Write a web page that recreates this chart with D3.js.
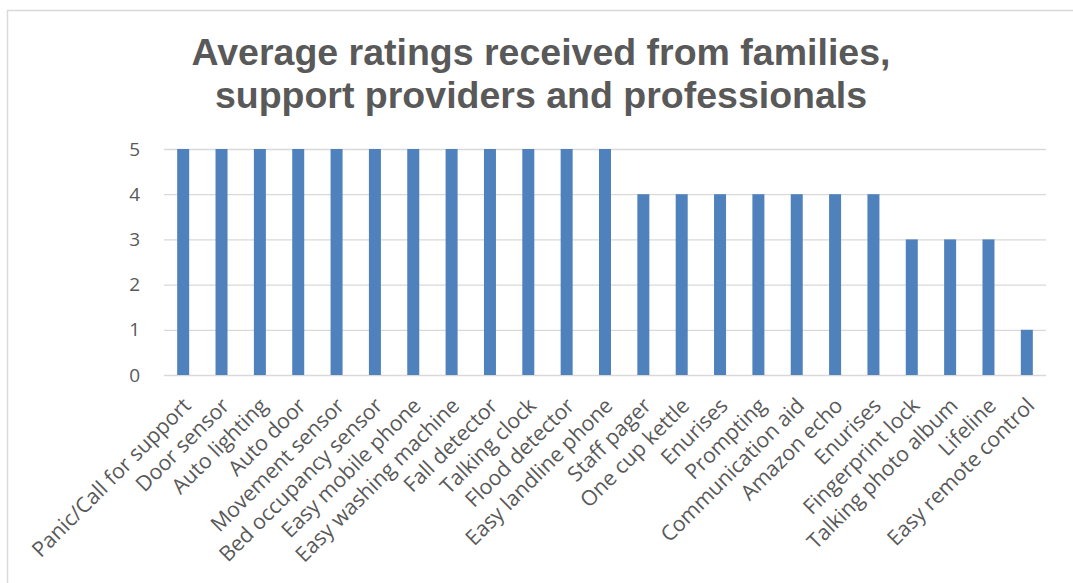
<!DOCTYPE html>
<html>
<head>
<meta charset="utf-8">
<script src="https://cdn.jsdelivr.net/npm/d3@7"></script>
<style>
  html, body { margin: 0; padding: 0; background: #fff; }
  svg { display: block; }
</style>
</head>
<body>
<svg id="chart" width="1073" height="583"></svg>
<script>
// Devices and their average rating
const categories = [
  "Panic/Call for support", "Door sensor", "Auto lighting", "Auto door",
  "Movement sensor", "Bed occupancy sensor", "Easy mobile phone",
  "Easy washing machine", "Fall detector", "Talking clock", "Flood detector",
  "Easy landline phone", "Staff pager", "One cup kettle", "Enurises",
  "Prompting", "Communication aid", "Amazon echo", "Enurises ",
  "Fingerprint lock", "Talking photo album", "Lifeline", "Easy remote control"
];
const ratings = [5, 5, 5, 5, 5, 5, 5, 5, 5, 5, 5, 5, 4, 4, 4, 4, 4, 4, 4, 3, 3, 3, 1];
const yTicks = [0, 1, 2, 3, 4, 5];
const titleLines = ["Average ratings received from families,", "support providers and professionals"];

const svg = d3.select("#chart");
const W = 1073, H = 583;
const margin = { left: 164, right: 27, top: 149, bottom: 208 };

// chart frame
svg.append("rect")
  .attr("x", 7.5).attr("y", 10.5)
  .attr("width", W + 10).attr("height", H + 10)
  .attr("fill", "#fff").attr("stroke", "#d9d9d9").attr("stroke-width", 1.5);

const x = d3.scaleBand().domain(categories).range([margin.left, W - margin.right]).paddingInner(0).paddingOuter(0);
const y = d3.scaleLinear().domain([0, 5]).range([H - margin.bottom, margin.top]);

// title
svg.append("text")
  .attr("text-anchor", "middle")
  .attr("font-family", "'Liberation Sans', Arial, sans-serif")
  .attr("font-weight", "bold").attr("font-size", 37.5)
  .attr("fill", "#595959")
  .selectAll("tspan").data(titleLines).join("tspan")
  .attr("x", 541).attr("y", (d, i) => 65 + i * 43)
  .text(d => d);

// gridlines and value labels
const yAxis = d3.axisLeft(y).tickValues(yTicks).tickSize(-(W - margin.left - margin.right)).tickFormat(d3.format("d"));
const gy = svg.append("g").attr("transform", `translate(${margin.left},0)`).call(yAxis);
gy.select(".domain").remove();
gy.selectAll(".tick line").attr("stroke", "#d9d9d9").attr("stroke-width", 1.3);
gy.selectAll(".tick text")
  .attr("x", -24)
  .attr("font-family", "'Open Sans', sans-serif").attr("font-size", 19)
  .attr("fill", "#595959");

// bars
const barW = 12;
svg.append("g").selectAll("rect").data(categories).join("rect")
  .attr("x", (d) => x(d) + x.bandwidth() / 2 - barW / 2)
  .attr("y", (d, i) => y(ratings[i]))
  .attr("width", barW)
  .attr("height", (d, i) => y(0) - y(ratings[i]))
  .attr("fill", "#4f81bd");

// category labels
const xAxis = d3.axisBottom(x).tickSize(0).tickFormat(d => d.trim());
const gx = svg.append("g").attr("transform", `translate(0,${y(0)})`).call(xAxis);
gx.select(".domain").remove();
gx.selectAll(".tick text")
  .attr("font-family", "'Open Sans', sans-serif").attr("font-size", 21.2)
  .attr("fill", "#595959")
  .attr("text-anchor", "end")
  .attr("dy", null).attr("y", 0)
  .attr("transform", "translate(9,32) rotate(-45)");
</script>
</body>
</html>
